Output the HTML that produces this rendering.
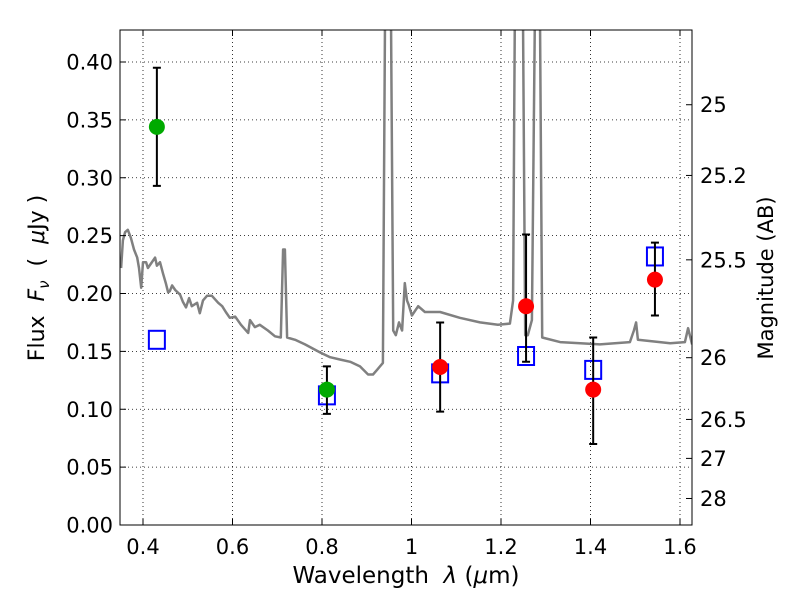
<!DOCTYPE html>
<html><head><meta charset="utf-8"><style>
body{margin:0;background:#fff;}
svg text{font-family:"DejaVu Sans","Liberation Sans",sans-serif;white-space:pre;}
</style></head><body>
<svg id="chart" width="800" height="600" xmlns="http://www.w3.org/2000/svg">
<defs><clipPath id="clip"><rect x="120" y="30" width="572" height="495"/></clipPath></defs>
<rect width="800" height="600" fill="#fff"/>
<g id="grid"></g>
<g id="spec" clip-path="url(#clip)"></g>
<g id="marks"></g>
<rect x="120" y="30" width="572" height="495" fill="none" stroke="#000" stroke-width="1"/>
<g id="axes"></g>
<text x="406" y="583" font-size="23" text-anchor="middle">Wavelength  <tspan font-style="italic">λ</tspan> (<tspan font-style="italic">μ</tspan>m)</text>
<text transform="translate(44,278) rotate(-90)" font-size="22" text-anchor="middle">Flux  <tspan font-style="italic">F</tspan><tspan font-style="italic" font-size="15" dy="5">ν</tspan><tspan dy="-5">  (  </tspan><tspan font-style="italic">μ</tspan>Jy )</text>
<text transform="translate(773,278) rotate(-90)" font-size="21" text-anchor="middle">Magnitude (AB)</text>
</svg>
<script>
const specWl=[0.351,0.355,0.360,0.366,0.373,0.380,0.387,0.391,0.396,0.400,0.407,0.411,0.418,0.427,0.431,0.438,0.445,0.451,0.456,0.460,0.465,0.472,0.483,0.489,0.496,0.503,0.509,0.521,0.527,0.534,0.543,0.554,0.568,0.577,0.585,0.594,0.606,0.619,0.635,0.639,0.650,0.661,0.679,0.695,0.708,0.713,0.717,0.722,0.740,0.762,0.796,0.818,0.840,0.863,0.885,0.903,0.914,0.923,0.936,0.941,0.954,0.959,0.965,0.972,0.979,0.985,0.990,0.994,1.001,1.015,1.030,1.064,1.108,1.153,1.193,1.220,1.227,1.231,1.249,1.254,1.260,1.269,1.276,1.287,1.292,1.332,1.377,1.421,1.488,1.497,1.502,1.506,1.578,1.611,1.618,1.627];
const specFlux=[0.222,0.246,0.253,0.255,0.248,0.238,0.231,0.222,0.205,0.227,0.227,0.222,0.226,0.231,0.224,0.227,0.217,0.209,0.201,0.202,0.207,0.203,0.199,0.193,0.188,0.196,0.189,0.192,0.183,0.194,0.198,0.198,0.192,0.189,0.184,0.179,0.180,0.173,0.166,0.177,0.171,0.173,0.168,0.163,0.162,0.238,0.238,0.162,0.160,0.156,0.149,0.145,0.143,0.141,0.137,0.130,0.130,0.134,0.140,0.45,0.45,0.168,0.164,0.175,0.168,0.209,0.194,0.190,0.181,0.189,0.184,0.184,0.179,0.175,0.173,0.174,0.194,0.45,0.45,0.164,0.164,0.177,0.45,0.45,0.162,0.158,0.157,0.156,0.158,0.168,0.175,0.160,0.157,0.158,0.170,0.156];
const greenWl=[0.431,0.811];
const greenFlux=[0.344,0.117];
const greenLo=[0.293,0.096];
const greenHi=[0.395,0.137];
const redWl=[1.064,1.256,1.406,1.544];
const redFlux=[0.1365,0.189,0.117,0.212];
const redLo=[0.098,0.141,0.070,0.181];
const redHi=[0.175,0.251,0.162,0.244];
const sqWl=[0.431,0.811,1.064,1.256,1.406,1.544];
const sqFlux=[0.160,0.112,0.131,0.146,0.134,0.232];
const xTicks=[0.4,0.6,0.8,1.0,1.2,1.4,1.6];
const xTickLabels=["0.4","0.6","0.8","1","1.2","1.4","1.6"];
const yTicks=[0,0.05,0.10,0.15,0.20,0.25,0.30,0.35,0.40];
const yTickLabels=["0.00","0.05","0.10","0.15","0.20","0.25","0.30","0.35","0.40"];
const magTicks=[25,25.2,25.5,26,26.5,27,28];
const magTickLabels=["25","25.2","25.5","26","26.5","27","28"];

const NS="http://www.w3.org/2000/svg";
const X=w=>143+(w-0.4)*447.5;
const Y=f=>525-f*1157.5;
function mk(tag,attrs,parent,txt){const e=document.createElementNS(NS,tag);for(const k in attrs)e.setAttribute(k,attrs[k]);if(txt!==undefined)e.textContent=txt;parent.appendChild(e);return e;}
const grid=document.getElementById('grid'),axes=document.getElementById('axes'),spec=document.getElementById('spec'),marks=document.getElementById('marks');
xTicks.forEach((t,i)=>{const x=X(t);
 let g=mk('line',{x1:x,x2:x,y1:30,y2:525,stroke:'#000','stroke-width':0.8,'stroke-dasharray':'1,3'},grid);
 
 let tk=mk('path',{d:`M${x},525v-6M${x},30v6`,stroke:'#000'},axes);
 
 let l=mk('text',{x:x,y:554,'font-size':21,'text-anchor':'middle'},axes,xTickLabels[i]);
 });
yTicks.forEach((t,i)=>{const y=Y(t);
 let g=mk('line',{x1:120,x2:692,y1:y,y2:y,stroke:'#000','stroke-width':0.8,'stroke-dasharray':'1,3'},grid);
 
 let tk=mk('path',{d:`M120,${y}h6`,stroke:'#000'},axes);
 
 let l=mk('text',{x:113,y:y+7.5,'font-size':21,'text-anchor':'end'},axes,yTickLabels[i]);
 });
magTicks.forEach((m,i)=>{const y=Y(Math.pow(10,(23.9-m)/2.5));
 let tk=mk('path',{d:`M692,${y}h-6`,stroke:'#000'},axes);
 
 let l=mk('text',{x:700,y:y+7.5,'font-size':21},axes,magTickLabels[i]);
 });
let d=specWl.map((w,i)=>(i?'L':'M')+X(w).toFixed(1)+','+Y(specFlux[i]).toFixed(1)).join('');
let sp=mk('path',{d:d,fill:'none',stroke:'#808080','stroke-width':2.5,'stroke-linejoin':'round'},spec);

sqWl.forEach((w,i)=>{let r=mk('rect',{x:X(w)-8,y:Y(sqFlux[i])-9,width:16,height:18,fill:'none',stroke:'#0000ff','stroke-width':2},marks);
 });
function errs(wl,lo,hi){wl.forEach((w,i)=>{const x=X(w);
 let e=mk('path',{d:`M${x},${Y(lo[i])}V${Y(hi[i])}M${x-4},${Y(lo[i])}h8M${x-4},${Y(hi[i])}h8`,stroke:'#000','stroke-width':2},marks);
 });}
errs(greenWl,greenLo,greenHi);errs(redWl,redLo,redHi);
greenWl.forEach((w,i)=>{let c=mk('circle',{cx:X(w),cy:Y(greenFlux[i]),r:8,fill:'#00aa00'},marks);
 });
redWl.forEach((w,i)=>{let c=mk('circle',{cx:X(w),cy:Y(redFlux[i]),r:8,fill:'#ff0000'},marks);
 });
</script>
</body></html>
